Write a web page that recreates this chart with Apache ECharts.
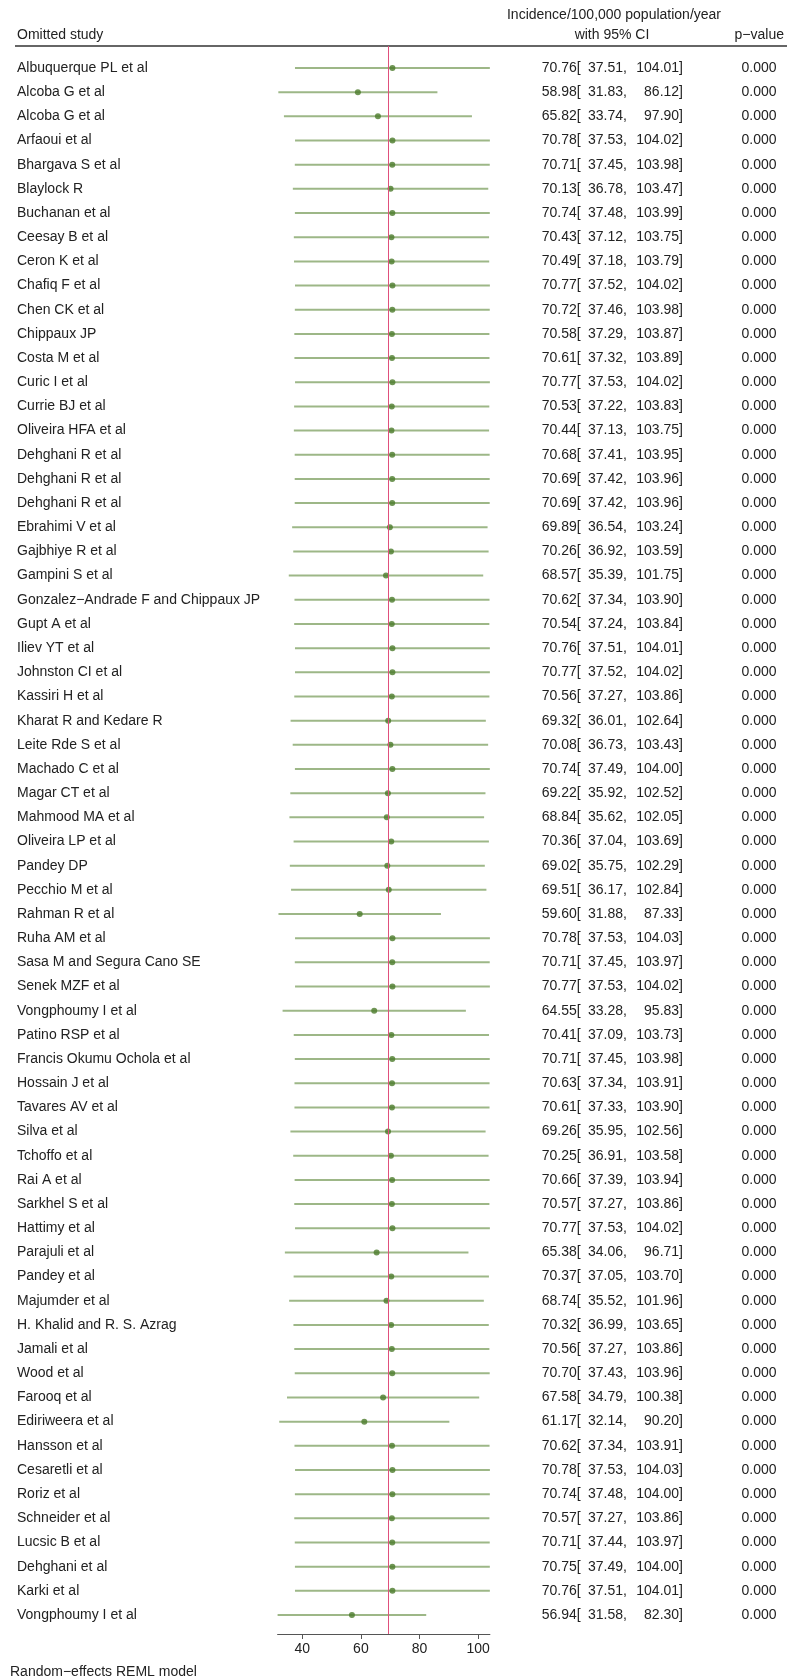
<!DOCTYPE html>
<html>
<head>
<meta charset="utf-8">
<script src="https://cdn.jsdelivr.net/npm/echarts@6/dist/echarts.min.js"></script>
<style>
html,body{margin:0;padding:0;background:#fff;}
#chart{width:787px;height:1680px;}
</style>
</head>
<body>
<div id="chart"></div>
<script>
const studies = [
"Albuquerque PL et al","Alcoba G et al","Alcoba G et al","Arfaoui et al","Bhargava S et al",
"Blaylock R","Buchanan et al","Ceesay B et al","Ceron K et al","Chafiq F et al",
"Chen CK et al","Chippaux JP","Costa M et al","Curic I et al","Currie BJ et al",
"Oliveira HFA et al","Dehghani R et al","Dehghani R et al","Dehghani R et al","Ebrahimi V et al",
"Gajbhiye R et al","Gampini S et al","Gonzalez\u2212Andrade F and Chippaux JP","Gupt A et al","Iliev YT et al",
"Johnston CI et al","Kassiri H et al","Kharat R and Kedare R","Leite Rde S et al","Machado C et al",
"Magar CT et al","Mahmood MA et al","Oliveira LP et al","Pandey DP","Pecchio M et al",
"Rahman R et al","Ruha AM et al","Sasa M and Segura Cano SE","Senek MZF et al","Vongphoumy I et al",
"Patino RSP et al","Francis Okumu Ochola et al","Hossain J et al","Tavares AV et al","Silva et al",
"Tchoffo et al","Rai A et al","Sarkhel S et al","Hattimy et al","Parajuli et al",
"Pandey et al","Majumder et al","H. Khalid and R. S. Azrag","Jamali et al","Wood et al",
"Farooq et al","Ediriweera et al","Hansson et al","Cesaretli et al","Roriz et al",
"Schneider et al","Lucsic B et al","Dehghani et al","Karki et al","Vongphoumy I et al"
];
const estimates = [
70.76,58.98,65.82,70.78,70.71,70.13,70.74,70.43,70.49,70.77,
70.72,70.58,70.61,70.77,70.53,70.44,70.68,70.69,70.69,69.89,
70.26,68.57,70.62,70.54,70.76,70.77,70.56,69.32,70.08,70.74,
69.22,68.84,70.36,69.02,69.51,59.60,70.78,70.71,70.77,64.55,
70.41,70.71,70.63,70.61,69.26,70.25,70.66,70.57,70.77,65.38,
70.37,68.74,70.32,70.56,70.70,67.58,61.17,70.62,70.78,70.74,
70.57,70.71,70.75,70.76,56.94
];
const lower = [
37.51,31.83,33.74,37.53,37.45,36.78,37.48,37.12,37.18,37.52,
37.46,37.29,37.32,37.53,37.22,37.13,37.41,37.42,37.42,36.54,
36.92,35.39,37.34,37.24,37.51,37.52,37.27,36.01,36.73,37.49,
35.92,35.62,37.04,35.75,36.17,31.88,37.53,37.45,37.53,33.28,
37.09,37.45,37.34,37.33,35.95,36.91,37.39,37.27,37.53,34.06,
37.05,35.52,36.99,37.27,37.43,34.79,32.14,37.34,37.53,37.48,
37.27,37.44,37.49,37.51,31.58
];
const upper = [
104.01,86.12,97.90,104.02,103.98,103.47,103.99,103.75,103.79,104.02,
103.98,103.87,103.89,104.02,103.83,103.75,103.95,103.96,103.96,103.24,
103.59,101.75,103.90,103.84,104.01,104.02,103.86,102.64,103.43,104.00,
102.52,102.05,103.69,102.29,102.84,87.33,104.03,103.97,104.02,95.83,
103.73,103.98,103.91,103.90,102.56,103.58,103.94,103.86,104.02,96.71,
103.70,101.96,103.65,103.86,103.96,100.38,90.20,103.91,104.03,104.00,
103.86,103.97,104.00,104.01,82.30
];
const pValues = [
0,0,0,0,0,0,0,0,0,0,
0,0,0,0,0,0,0,0,0,0,
0,0,0,0,0,0,0,0,0,0,
0,0,0,0,0,0,0,0,0,0,
0,0,0,0,0,0,0,0,0,0,
0,0,0,0,0,0,0,0,0,0,
0,0,0,0,0
];
const overallEstimate = 69.36;
const xTicks = [40, 60, 80, 100];

// layout (pixels)
const FONT = '14px "Liberation Sans", Arial, sans-serif';
const TXT = '#222';
const L = {
  gridLeft: 277.6, gridRight: 787 - 489.9, gridTop: 46, gridBottom: 1680 - 1634,
  firstRow: 68, lastRow: 1615,
  nameX: 17, estX: 541.7, loX: 588, hiRightX: 683, pCenterX: 759
};
const n = studies.length;
const step = (L.lastRow - L.firstRow) / (n - 1);
const yMin = -(L.firstRow - L.gridTop) / step;
const yMax = (n - 1) + (1680 - L.gridBottom - L.lastRow) / step;
const xMin = Math.min(...lower), xMax = Math.max(...upper);

const chart = echarts.init(document.getElementById('chart'), null, {renderer: 'canvas'});
const txt = (text, x, y, align) => ({type: 'text', x: x, y: y,
  style: {text: text, font: FONT, fill: TXT, align: align, verticalAlign: 'middle'}});

chart.setOption({
  animation: false,
  backgroundColor: '#fff',
  grid: {left: L.gridLeft, right: L.gridRight, top: L.gridTop, bottom: L.gridBottom, containLabel: false},
  xAxis: {
    type: 'value', min: xMin, max: xMax, position: 'bottom',
    axisLine: {show: true, onZero: false, lineStyle: {color: '#555', width: 1}},
    axisTick: {show: true, length: 5, lineStyle: {color: '#555'}, customValues: xTicks},
    axisLabel: {show: true, customValues: xTicks, color: TXT, fontSize: 14,
      fontFamily: '"Liberation Sans", Arial, sans-serif', margin: 8},
    splitLine: {show: false}
  },
  yAxis: {type: 'value', inverse: true, min: yMin, max: yMax, show: false},
  graphic: [
    {type: 'line', shape: {x1: 15, y1: 46, x2: 787, y2: 46}, style: {stroke: '#666', lineWidth: 2}},
    txt('Omitted study', L.nameX, 35, 'left'),
    txt('Incidence/100,000 population/year', 614, 15, 'center'),
    txt('with 95% CI', 612, 35, 'center'),
    txt('p\u2212value', 784, 35, 'right'),
    txt('Random\u2212effects REML model', 10, 1672, 'left')
  ],
  series: [
    {
      type: 'custom', name: 'ci',
      data: studies.map((s, i) => [lower[i], upper[i], i]),
      encode: {x: [0, 1], y: 2},
      renderItem: function (params, api) {
        const p1 = api.coord([api.value(0), api.value(2)]);
        const p2 = api.coord([api.value(1), api.value(2)]);
        return {type: 'line', shape: {x1: p1[0], y1: p1[1], x2: p2[0], y2: p2[1]},
          style: {stroke: '#9db787', lineWidth: 2}};
      }
    },
    {
      type: 'scatter', name: 'est',
      data: estimates.map((v, i) => [v, i]),
      symbol: 'circle', symbolSize: 6,
      itemStyle: {color: '#4b7a2a'},
      markLine: {
        silent: true, symbol: 'none', label: {show: false},
        lineStyle: {color: '#e0507c', width: 1, type: 'solid'},
        data: [{xAxis: overallEstimate}]
      }
    },
    {
      type: 'custom', name: 'text',
      data: studies.map((s, i) => [xMin, i]),
      encode: {x: 0, y: 1},
      renderItem: function (params, api) {
        const i = params.dataIndex;
        const y = api.coord([xMin, i])[1];
        return {type: 'group', children: [
          txt(studies[i], L.nameX, y, 'left'),
          txt(estimates[i].toFixed(2) + '[', L.estX, y, 'left'),
          txt(lower[i].toFixed(2) + ',', L.loX, y, 'left'),
          txt(upper[i].toFixed(2) + ']', L.hiRightX, y, 'right'),
          txt(pValues[i].toFixed(3), L.pCenterX, y, 'center')
        ]};
      }
    }
  ]
});
</script>
</body>
</html>
